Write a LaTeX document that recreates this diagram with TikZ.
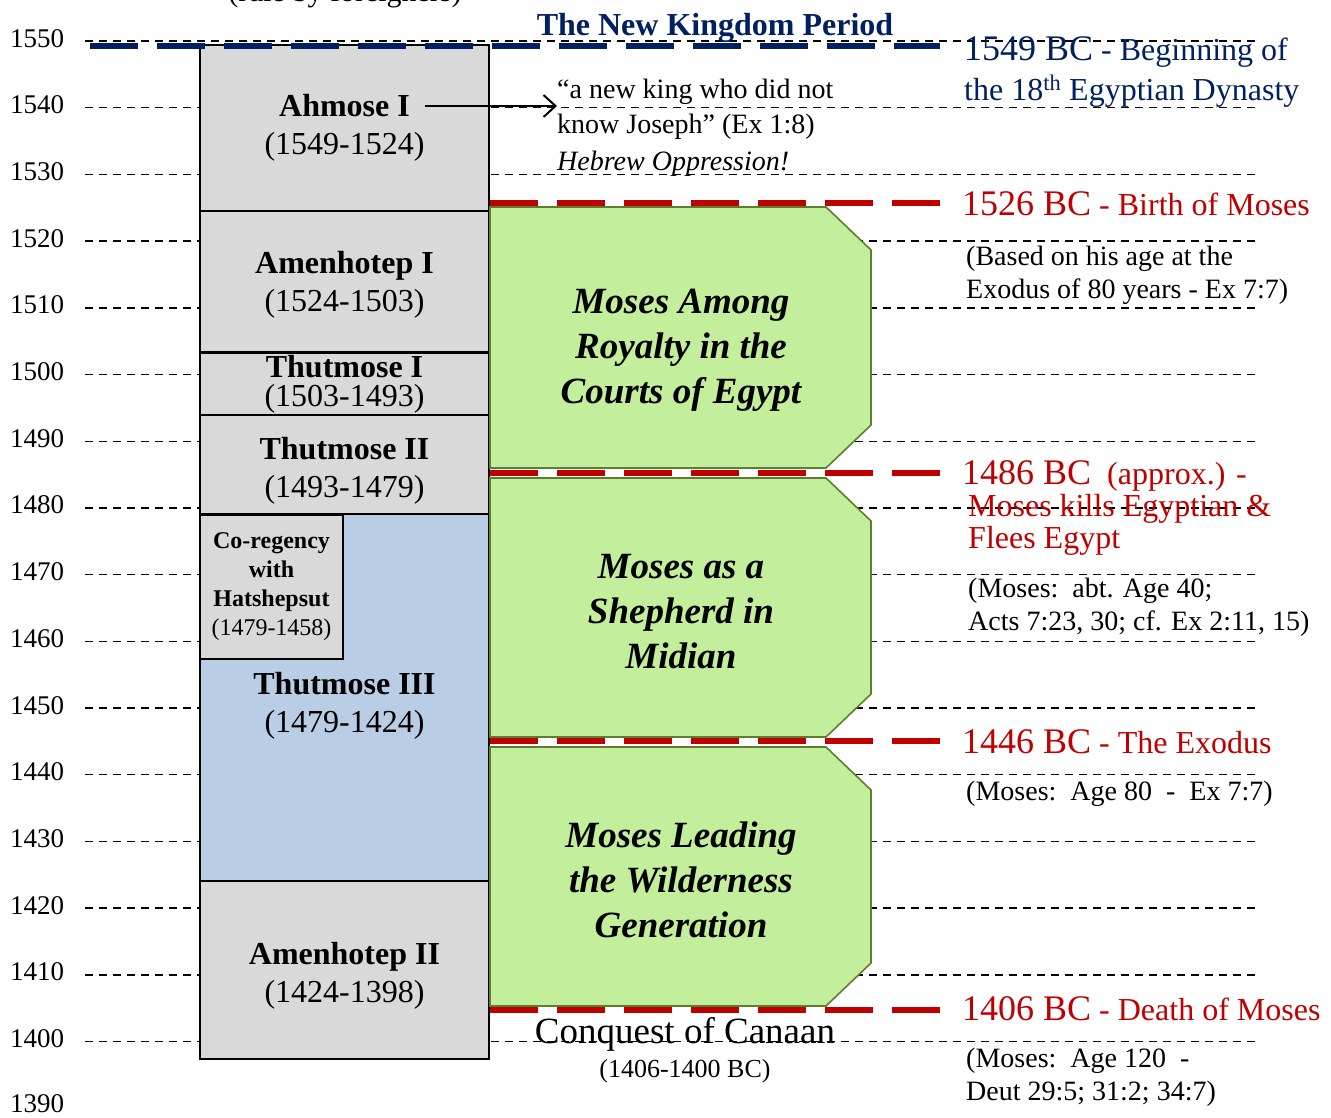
\documentclass[tikz,border=0pt]{standalone}
\usepackage{fontspec}
\setmainfont{Liberation Serif}
\usepackage{xcolor}
\usetikzlibrary{arrows.meta,positioning}

\definecolor{egnavy}{RGB}{0,32,96}
\definecolor{egred}{RGB}{192,0,0}
\definecolor{kinggray}{RGB}{217,217,217}
\definecolor{thutblue}{RGB}{185,205,229}
\definecolor{mosesgreen}{RGB}{195,238,155}
\definecolor{mosesedge}{RGB}{94,126,46}

\newcommand{\fsz}[2]{\fontsize{#1}{#2}\selectfont}
% chamfered green period box: top, bottom
\newcommand{\mosesbox}[2]{%
  \draw[mosesframe] (490,#1) -- (826,#1) -- (871,#1+43) -- (871,#2-43) -- (826,#2) -- (490,#2) -- cycle;}

\tikzset{
  gridline/.style={dash pattern=on 8pt off 6pt, line width=1.4pt},
  yearlbl/.style={anchor=base west, inner sep=0, font=\fsz{27}{30}},
  kingbox/.style={draw, fill=kinggray, line width=1.5pt, align=center, inner sep=0, font=\fsz{32}{38}},
  kingtext/.style={align=center, inner sep=0, font=\fsz{32}{38}},
  eraline/.style={line width=6pt, dash pattern=on 48pt off 19pt},
  mosesframe/.style={draw=mosesedge, fill=mosesgreen, line width=1.6pt},
  mosestext/.style={anchor=base, align=center, inner sep=0, font=\fsz{37}{45}\bfseries\itshape},
  datehead/.style={anchor=base west, align=left, inner sep=0, text=egred, font=\fsz{32}{32}},
  note/.style={anchor=base west, align=left, inner sep=0, font=\fsz{28}{33}}
}

\begin{document}
\begin{tikzpicture}[x=1pt, y=-1pt]
\useasboundingbox (0,0) rectangle (1331,1117);

% year grid
\foreach \yy in {1550,1540,...,1400} {
  \pgfmathsetmacro{\py}{41+(1550-\yy)*6.67}
  \draw[gridline] (85,\py) -- (1255,\py);
  \node[yearlbl] (yr\yy) at (10,\py+6) {\yy};
}
\node[yearlbl] (yr1390) at (10,1112) {1390};

% pharaohs
\node[kingbox, minimum width=289pt, minimum height=166pt] (ahmose) at (344.5,128)
  {\textbf{Ahmose I}\\(1549-1524)};
\node[kingbox, minimum width=289pt, minimum height=141pt] (amenI) at (344.5,281.5)
  {\rule{0pt}{28pt}\textbf{Amenhotep I}\\(1524-1503)};
\node[kingbox, line width=2.5pt, minimum width=289pt, minimum height=62pt, font=\fsz{32}{29}] (thutI) at (344.5,384)
  {\textbf{Thutmose I}\\(1503-1493)};
\node[kingbox, minimum width=289pt, minimum height=99pt] (thutII) at (344.5,464.5)
  {\rule{0pt}{34pt}\textbf{Thutmose II}\\(1493-1479)};
\node[kingbox, fill=thutblue, minimum width=289pt, minimum height=367pt] (thutIII) at (344.5,697.5) {};
\node[kingbox, minimum width=143pt, minimum height=144pt, font=\fsz{24}{29}] (coreg) at (271.5,587)
  {\textbf{Co-regency}\\\textbf{with}\\\textbf{Hatshepsut}\\(1479-1458)};
\node[kingtext] (thutIIIname) at (344.5,706) {\textbf{Thutmose III}\\(1479-1424)};
\node[kingbox, minimum width=289pt, minimum height=178pt] (amenII) at (344.5,970)
  {\rule{0pt}{34pt}\textbf{Amenhotep II}\\(1424-1398)};

% era lines
\draw[eraline, egnavy] (90,46) -- (940,46);
\foreach \ly in {203,473,741,1010}
  \draw[eraline, egred] (490,\ly) -- (944,\ly);

% Moses periods
\mosesbox{207}{468}
\mosesbox{478}{737}
\mosesbox{747}{1006}
\node[mosestext] (royalty) at (681,403) {Moses Among\\Royalty in the\\Courts of Egypt};
\node[mosestext] (midian) at (681,668) {Moses as a\\Shepherd in\\Midian};
\node[mosestext] (wilderness) at (681,937) {Moses Leading\\the Wilderness\\Generation};

% headings
\node[anchor=base, inner sep=0, font=\fsz{30}{36}] (foreign) at (345,1) {(rule by foreigners)};
\node[anchor=base, inner sep=0, text=egnavy, font=\fsz{32}{38}\bfseries] (title) at (715,35) {The New Kingdom Period};

% Ahmose note
\node[note, font=\fsz{28}{35}] (quote) at (557,133) {``a new king who did not\\know Joseph'' (Ex 1:8)};
\node[note, font=\fsz{28}{36}\itshape] (oppress) at (557,170) {Hebrew Oppression!};
\coordinate (ahmoseArrow) at (425,106);
\draw[line width=2pt, -{Straight Barb[length=12pt, width=22pt]}] (ahmoseArrow) -- (ahmoseArrow -| quote.west);

% dated events
\node[datehead, text=egnavy, font=\fsz{32}{40}] (begin) at (964,100)
  {{\fsz{36}{40}1549 BC} - Beginning of\\the 18\textsuperscript{th} Egyptian Dynasty};
\node[datehead] (birth) at (962,215) {{\fsz{36}{40}1526 BC} - Birth of Moses};
\node[note] (birthnote) at (966,298) {(Based on his age at the\\Exodus of 80 years - Ex 7:7)};
\node[datehead] (flee) at (962,548) {{\fsz{36}{40}1486 BC}\ \ (approx.) -\\\hspace*{6pt}Moses kills Egyptian \&\\\hspace*{6pt}Flees Egypt};
\node[note] (fleenote) at (968,630) {(Moses:\ \ abt. Age 40;\\Acts 7:23, 30; cf. Ex 2:11, 15)};
\node[datehead] (exodus) at (962,753) {{\fsz{36}{40}1446 BC} - The Exodus};
\node[note] (exodusnote) at (966,800) {(Moses:\ \ Age 80\ \ -\ \ Ex 7:7)};
\node[datehead] (death) at (962,1020) {{\fsz{36}{40}1406 BC} - Death of Moses};
\node[note] (deathnote) at (966,1100) {(Moses:\ \ Age 120\ \ -\\Deut 29:5; 31:2; 34:7)};

% conquest
\node[anchor=base, inner sep=0, font=\fsz{37}{40}] (conquest) at (685,1043) {Conquest of Canaan};
\node[anchor=base, inner sep=0, font=\fsz{26}{30}] (conquestdate) at (685,1077) {(1406-1400 BC)};
\end{tikzpicture}
\end{document}
